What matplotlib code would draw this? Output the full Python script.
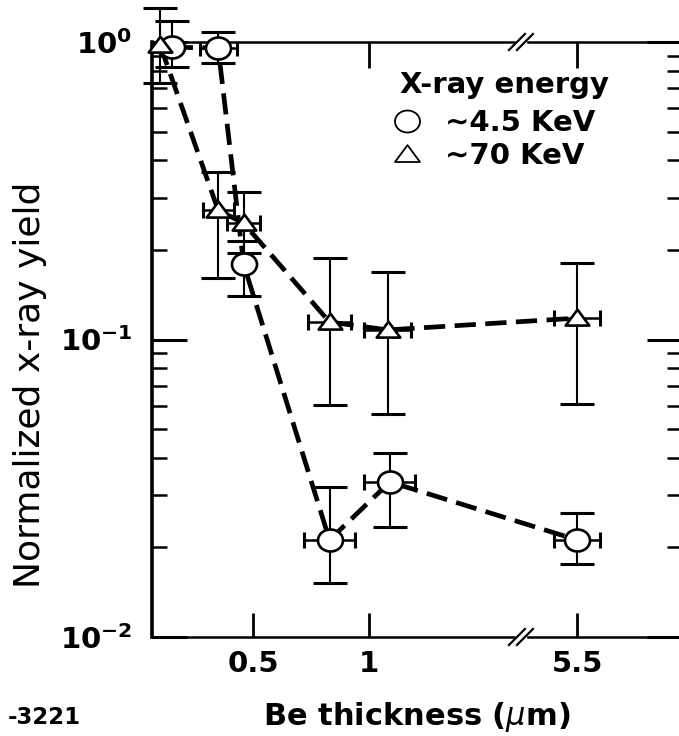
import numpy as np
import matplotlib
matplotlib.use('Agg')
import matplotlib.pyplot as plt
import matplotlib.transforms as mtransforms
from matplotlib.lines import Line2D
from matplotlib.path import Path
from matplotlib.patches import Rectangle
from matplotlib.ticker import LogLocator, NullFormatter, NullLocator

plt.rcParams['font.family'] = ['DejaVu Sans']
plt.rcParams['mathtext.fontset'] = 'dejavusans'

# ~4.5 KeV (circles)
thick_c = [0.15, 0.35, 0.46, 0.83, 1.09, 5.5]
yield_c = [0.96, 0.955, 0.179, 0.0212, 0.0332, 0.0212]
low_c = [0.824, 0.85, 0.14, 0.0152, 0.0234, 0.0176]
high_c = [1.176, 1.08, 0.215, 0.0319, 0.0416, 0.0261]
xerr_c = [0, 0.08, 0, 0.108, 0.11, 0.1]

# ~70 KeV (triangles)
thick_t = [0.10, 0.35, 0.46, 0.83, 1.08, 5.5]
yield_t = [0.977, 0.272, 0.246, 0.1145, 0.1077, 0.118]
low_t = [0.728, 0.161, 0.195, 0.0602, 0.0562, 0.0607]
high_t = [1.30, 0.366, 0.313, 0.188, 0.1686, 0.181]
xerr_t = [0, 0.067, 0.07, 0.093, 0.1, 0.1]

tick_vals = [0.5, 1, 5.5]
tick_labels = ['0.5', '1', '5.5']
ytick_vals = [0.01, 0.1, 1.0]
ytick_labels = [r'$\mathbf{10^{-2}}$', r'$\mathbf{10^{-1}}$', r'$\mathbf{10^{0}}$']

GAP = 5.5 - 1.897   # broken x axis: 5.5 sits right after the break
BREAK = 1.655


def to_axis(x):
    x = np.asarray(x, float)
    return np.where(x > 3, x - GAP, x)


tri = Path([(-1, -0.6), (1, -0.6), (0, 0.75), (-1, -0.6)],
           [Path.MOVETO, Path.LINETO, Path.LINETO, Path.CLOSEPOLY])
circ = Path.unit_circle()
ell = Path(circ.vertices * [1.0, 0.88], circ.codes)

fig = plt.figure(figsize=(6.79, 7.36), dpi=100)
ax = fig.add_axes([152/679, 1-637/736, (682-152)/679, (637-42)/736])
ax.set_yscale('log')
ax.set_ylim(0.01, 1.0)
ax.set_xlim(0.065, 2.349)

dash = (0, (4.5, 2.0))
for th, yv, lo, hi, xe, mk, ms in [
        (thick_c, yield_c, low_c, high_c, xerr_c, ell, 18),
        (thick_t, yield_t, low_t, high_t, xerr_t, tri, 17)]:
    px = to_axis(th)
    yv = np.array(yv)
    yerr = [yv - np.array(lo), np.array(hi) - yv]
    ax.errorbar(px, yv, yerr=yerr, fmt='none', ecolor='k', elinewidth=1.5,
                capsize=12, capthick=2.2, zorder=2, clip_on=False)
    xe = np.array(xe)
    m = xe > 0
    ax.errorbar(px[m], yv[m], xerr=xe[m], fmt='none', ecolor='k',
                elinewidth=1.8, capsize=6, capthick=2.2, zorder=2)
    ax.plot(px, yv, ls=dash, lw=3.4, color='k', zorder=3, clip_on=False)
    ax.plot(px, yv, ls='none', marker=mk, ms=ms, mfc='white', mec='k',
            mew=1.9, zorder=4, clip_on=False)

# axes, ticks
for s in ax.spines.values():
    s.set_linewidth(1.8)
ax.spines['left'].set_linewidth(2.6)

ax.set_xticks(to_axis(tick_vals), labels=tick_labels)
ax.xaxis.set_minor_locator(NullLocator())
ax.tick_params(axis='x', which='major', direction='in', length=17, width=2,
               labelsize=21, pad=9, top=False)
for lab in ax.get_xticklabels():
    lab.set_fontweight('bold')

ax.set_yticks(ytick_vals, labels=ytick_labels)
ax.yaxis.set_minor_locator(LogLocator(base=10, subs=np.arange(2, 10)))
ax.yaxis.set_minor_formatter(NullFormatter())
ax.tick_params(axis='y', which='major', direction='in', length=25, width=2.2,
               labelsize=21, pad=14, right=True)
ax.tick_params(axis='y', which='minor', direction='in', length=11, width=1.8,
               right=True)

sec = ax.secondary_xaxis('top')
sec.set_xticks(to_axis([1, 5.5]))
sec.tick_params(direction='in', length=19, width=2, labeltop=False)
sec.spines['top'].set_visible(False)

# axis break marks
bt = mtransforms.blended_transform_factory(ax.transData, ax.transAxes)
pxx, pxy = 1/232, 1/595
for yb in (0.0, 1.0):
    ax.add_patch(Rectangle((BREAK - 5*pxx, yb - 4*pxy), 10*pxx, 8*pxy,
                           transform=bt, color='white', clip_on=False, zorder=6))
    for d in (-4, 4):
        ax.plot([BREAK + (d - 8)*pxx, BREAK + (d + 8)*pxx],
                [yb - 8*pxy, yb + 8*pxy], color='k', lw=1.6,
                transform=bt, clip_on=False, zorder=7)

ax.set_xlabel(r'Be thickness ($\mu$m)', fontsize=22, fontweight='bold')
ax.xaxis.set_label_coords(0.499, -0.106)
ax.set_ylabel('Normalized x-ray yield', fontsize=26)
ax.yaxis.set_label_coords((47-152)/530, (637-385)/595)

# legend
fig.text(400/679, 1-85/736, 'X-ray energy', fontsize=21, fontweight='bold',
         ha='left', va='center')
handles = [Line2D([], [], ls='none', marker=ell, ms=18, mfc='white', mec='k', mew=1.3),
           Line2D([], [], ls='none', marker=tri, ms=18, mfc='white', mec='k', mew=1.3)]
leg = ax.legend(handles, ['\u223c4.5 KeV', '\u223c70 KeV'],
                loc='upper left', bbox_to_anchor=(392/679, 1-109/736),
                bbox_transform=fig.transFigure, frameon=False, borderpad=0,
                borderaxespad=0, handlelength=1.0, handletextpad=0.83,
                labelspacing=0.17, prop={'size': 21, 'weight': 'bold'})

fig.text(81/679, 1-717/736, '-3221', fontsize=16.5, fontweight='bold',
         ha='right', va='center')

fig.savefig('out.png', dpi=100)
